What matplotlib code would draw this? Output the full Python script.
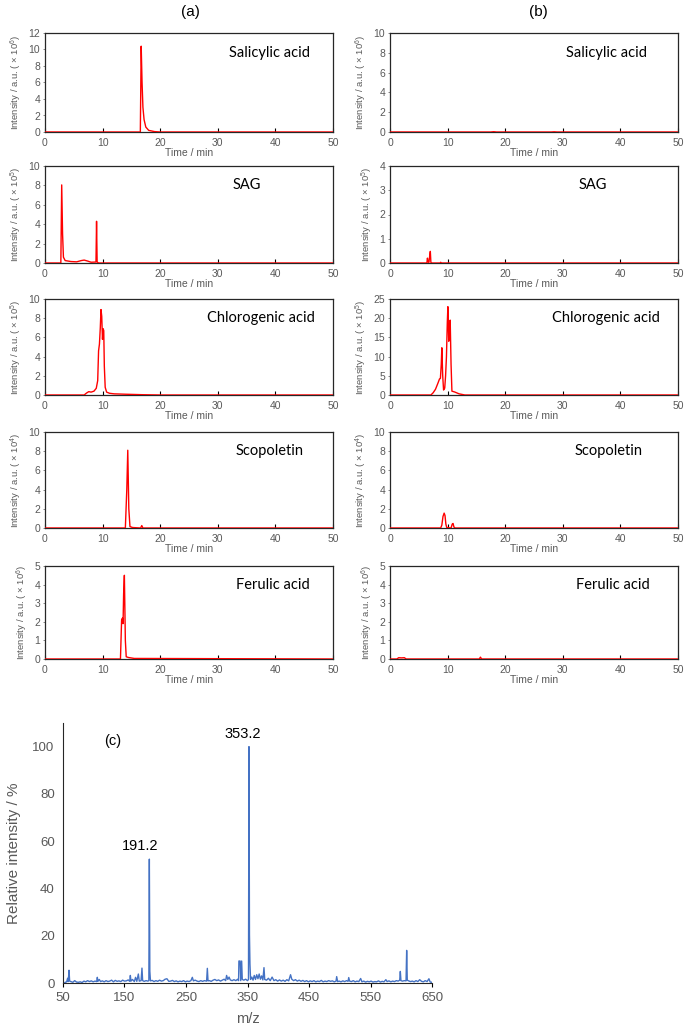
import numpy as np
import matplotlib
matplotlib.use("Agg")
import matplotlib.pyplot as plt

plt.rcParams['font.family'] = ['Liberation Sans', 'DejaVu Sans']
plt.rcParams['mathtext.fontset'] = 'custom'
plt.rcParams['mathtext.rm'] = 'Liberation Sans'

GREY = '#595959'
RED = '#ff0000'
BLUE = '#4472c4'

#------------------------ chromatogram data (time / min, intensity) ------------------------#
# column (a)
sa_a_t = [0, 16.55, 16.7, 16.85, 17.0, 17.2, 17.5, 18.0, 19.0, 20.0, 50]
sa_a_y = [0, 0, 10.4, 6.0, 3.0, 1.5, 0.6, 0.2, 0.05, 0, 0]

sag_a_t = [0, 2.75, 2.9, 3.05, 3.2, 3.5, 4.5, 5.5, 6.3, 6.8, 7.4, 8.0, 8.85, 8.95, 9.05, 9.3, 50]
sag_a_y = [0, 0, 8.05, 3.0, 0.6, 0.25, 0.15, 0.12, 0.25, 0.3, 0.2, 0.08, 0.1, 4.3, 0.1, 0, 0]

cga_a_t = [0, 6.8, 7.2, 7.6, 8.0, 8.5, 8.9, 9.15, 9.3, 9.45, 9.6, 9.72, 9.85, 9.98, 10.1,
           10.2, 10.3, 10.45, 10.7, 11.2, 12, 14, 17, 20, 50]
cga_a_y = [0, 0, 0.2, 0.35, 0.3, 0.4, 0.7, 1.5, 4.6, 5.3, 7.0, 8.9, 8.2, 5.8, 6.9,
           6.7, 3.0, 0.8, 0.3, 0.18, 0.12, 0.08, 0.03, 0, 0]

sco_a_t = [0, 13.95, 14.2, 14.37, 14.55, 14.75, 15.2, 16.6, 16.8, 17.0, 50]
sco_a_y = [0, 0, 4.0, 8.1, 2.0, 0.15, 0.05, 0, 0.25, 0, 0]

fer_a_t = [0, 13.1, 13.3, 13.45, 13.55, 13.65, 13.78, 13.95, 14.1, 14.5, 15.5, 50]
fer_a_y = [0, 0, 2.1, 2.2, 1.9, 3.5, 4.5, 1.0, 0.12, 0.08, 0.03, 0]

# column (b)
sa_b_t = [0, 17.5, 18.0, 18.5, 28.0, 28.5, 29.0, 50]
sa_b_y = [0, 0, 0.03, 0, 0, 0.02, 0, 0]

sag_b_t = [0, 6.4, 6.5, 6.6, 6.75, 6.9, 7.0, 7.1, 7.3, 8.7, 8.8, 8.9, 50]
sag_b_y = [0, 0, 0.2, 0.05, 0.02, 0.3, 0.48, 0.02, 0, 0, 0.03, 0, 0]

cga_b_t = [0, 7.1, 7.5, 7.9, 8.3, 8.6, 8.75, 8.9, 9.0, 9.15, 9.3, 9.5, 9.65, 9.8, 9.95,
           10.05, 10.2, 10.3, 10.45, 10.6, 10.75, 11.2, 12.0, 13, 50]
cga_b_y = [0, 0, 0.6, 1.5, 3.0, 4.2, 4.3, 8.0, 12.3, 5.0, 1.3, 1.8, 5.0, 10.0, 19.0,
           23.0, 14.0, 16.0, 19.5, 8.0, 1.0, 0.8, 0.3, 0, 0]

sco_b_t = [0, 8.8, 9.0, 9.2, 9.4, 9.55, 9.7, 9.85, 10.6, 10.8, 10.95, 11.1, 11.3, 50]
sco_b_y = [0, 0, 0.3, 1.2, 1.55, 1.3, 0.4, 0.05, 0, 0.4, 0.47, 0.1, 0, 0]

fer_b_t = [0, 1.2, 1.5, 2.0, 2.5, 2.8, 15.5, 15.7, 15.9, 50]
fer_b_y = [0, 0, 0.07, 0.06, 0.07, 0, 0, 0.1, 0, 0]

compounds = ['Salicylic acid', 'SAG', 'Chlorogenic acid', 'Scopoletin', 'Ferulic acid']
exponents = [6, 5, 5, 4, 6]
ymax_a = [12, 10, 10, 10, 5]
ystep_a = [2, 2, 2, 2, 1]
ymax_b = [10, 4, 25, 10, 5]
ystep_b = [2, 1, 5, 2, 1]
name_x_a = [0.78, 0.70, 0.75, 0.78, 0.79]
name_x_b = [0.75, 0.705, 0.75, 0.76, 0.775]

traces_a = [(sa_a_t, sa_a_y), (sag_a_t, sag_a_y), (cga_a_t, cga_a_y), (sco_a_t, sco_a_y), (fer_a_t, fer_a_y)]
traces_b = [(sa_b_t, sa_b_y), (sag_b_t, sag_b_y), (cga_b_t, cga_b_y), (sco_b_t, sco_b_y), (fer_b_t, fer_b_y)]

#------------------------ mass spectrum data (c) ------------------------#
ms_mz = [53, 56, 57.5, 58.5, 59.8, 60.8, 63, 66, 69, 72, 75, 78, 81, 84, 87, 90, 93, 96, 99, 102,
         104.8, 105.8, 106.8, 109, 111, 114, 117, 120, 123, 126, 129, 132, 135, 138, 141, 144, 147,
         150, 153, 156, 158.5, 159.5, 160.5, 163, 166, 168, 170, 172.5, 174, 177, 178.4, 179.5, 182,
         185, 188, 189.6, 190.4, 191.2, 192.2, 195, 198, 201, 204, 207, 210, 213, 216, 219, 222, 225,
         228, 231, 234, 237, 240, 243, 246, 249, 252, 255, 258, 260.3, 262, 265, 268, 271, 274, 277,
         280, 283.5, 284.7, 285.8, 288, 291, 294, 297, 300, 303, 306, 309, 312, 314.5, 316, 318, 320,
         322, 325, 328, 331, 334, 335.5, 336, 338, 339, 340.5, 341.5, 344, 347, 350, 351.6, 352.4,
         353.2, 354, 355, 357, 359, 361, 363, 365, 367, 369, 371, 373, 375, 376.8, 378, 381, 384, 387,
         390, 393, 396, 399, 402, 405, 408, 411, 414, 417, 420, 422, 425, 428, 431, 434, 437, 440, 443,
         446, 449, 452, 455, 458, 461, 464, 467, 470, 473, 476, 479, 482, 485, 488, 491, 494, 495,
         496.5, 499, 502, 505, 508, 511, 513.5, 514.6, 516, 519, 522, 525, 528, 531, 534, 536, 539,
         542, 545, 548, 551, 554, 557, 560, 563, 566, 569, 572, 575, 577, 580, 583, 586, 589, 592,
         595, 597.5, 598.5, 599.5, 602, 605, 607.8, 608.8, 609.8, 612, 615, 618, 621, 624, 627, 630,
         633, 636, 639, 642, 645, 647, 650]
ms_int = [0.2, 0.5, 2.0, 0.6, 5.4, 0.8, 0.6, 0.3, 1.0, 0.4, 0.3, 0.5, 0.2, 0.8, 0.5, 1.0, 0.6, 0.9,
          0.5, 0.8, 0.6, 2.4, 0.7, 1.5, 0.6, 0.9, 0.5, 1.0, 0.6, 0.8, 1.2, 0.5, 1.1, 0.7, 0.9, 0.6,
          1.2, 0.8, 0.9, 1.3, 0.7, 3.2, 0.8, 1.5, 0.6, 2.4, 0.7, 3.8, 0.8, 1.0, 6.3, 1.0, 0.7, 1.0,
          0.8, 1.0, 52.4, 5.0, 0.9, 1.1, 0.6, 1.0, 0.7, 1.2, 0.8, 1.0, 1.6, 1.8, 0.7, 0.8, 1.1, 0.6,
          0.9, 0.5, 0.8, 0.6, 1.0, 0.5, 0.8, 0.6, 1.0, 2.4, 0.9, 1.2, 0.8, 0.6, 1.0, 0.7, 1.0, 0.8,
          6.2, 0.9, 1.0, 0.7, 1.2, 1.5, 1.0, 1.3, 0.8, 1.2, 1.6, 1.0, 3.2, 1.5, 2.5, 1.3, 1.0, 1.4,
          1.0, 1.6, 1.0, 9.3, 9.3, 1.0, 9.3, 1.5, 1.2, 1.6, 1.0, 1.5, 100, 20.4, 8.0, 1.5, 2.5, 1.2,
          3.2, 1.5, 3.5, 1.8, 3.8, 1.6, 3.0, 1.3, 6.5, 1.5, 1.2, 2.0, 1.0, 2.5, 1.0, 1.4, 0.8, 1.3,
          0.8, 1.2, 0.7, 1.4, 0.9, 3.5, 1.6, 1.0, 1.4, 0.8, 1.2, 0.7, 1.1, 0.6, 1.0, 0.5, 0.9, 0.6,
          1.0, 0.5, 0.8, 0.6, 1.1, 0.5, 0.8, 0.6, 1.0, 0.7, 0.9, 0.5, 0.8, 2.7, 0.6, 0.8, 0.5, 0.9,
          0.6, 1.0, 0.7, 2.3, 0.8, 0.6, 1.0, 0.5, 0.8, 0.6, 1.9, 0.5, 0.8, 0.4, 0.7, 0.5, 0.8, 0.4,
          0.6, 0.5, 0.9, 0.4, 0.7, 0.5, 1.4, 0.6, 0.9, 0.5, 0.8, 0.6, 1.0, 0.8, 1.2, 4.9, 1.0, 0.8,
          1.0, 0.9, 13.8, 1.2, 0.9, 0.6, 0.8, 0.5, 1.0, 0.6, 1.4, 0.7, 0.5, 1.0, 0.6, 1.8, 0.4, 0.3]
ms_labels = ['191.2', '353.2']
ms_label_pos = [(176, 55), (343, 102.5)]

#------------------------ figure ------------------------#
W, H = 685, 1027
fig = plt.figure(figsize=(W / 100, H / 100), dpi=100)

def px_axes(left, top, right, bottom):
    return fig.add_axes([left / W, 1 - bottom / H, (right - left) / W, (bottom - top) / H])

rows = [(33, 132), (166, 263), (299, 395), (432, 528), (566, 659)]

def draw_chrom(ax, t, y, name, ymax, ystep, exp, name_x):
    ax.plot(t, y, color=RED, lw=1.0, zorder=3)
    ax.set_xlim(0, 50)
    ax.set_ylim(0, ymax)
    ax.set_xticks(np.arange(0, 51, 10))
    ax.set_yticks(np.arange(0, ymax + 0.01, ystep))
    ax.tick_params(axis='x', direction='in', length=3, width=0.8, color='black',
                   labelsize=7.5, labelcolor=GREY, pad=4)
    ax.tick_params(axis='y', direction='out', length=1.5, width=0.5, color=GREY,
                   labelsize=7.5, labelcolor=GREY, pad=2)
    for s in ax.spines.values():
        s.set_color('#262626')
        s.set_linewidth(0.9)
    ax.set_xlabel('Time / min', fontsize=7.5, color=GREY, labelpad=0)
    ax.set_ylabel(r'Intensity / a.u. ( $\times$ 10$^{%d}$)' % exp, fontsize=6.8,
                  color=GREY, labelpad=3)
    ax.text(name_x, 0.8, name, transform=ax.transAxes, ha='center', va='center',
            fontsize=10.5, family=['Lato', 'DejaVu Sans'])

for i, (top, bottom) in enumerate(rows):
    ax = px_axes(45, top, 333, bottom)
    draw_chrom(ax, traces_a[i][0], traces_a[i][1], compounds[i], ymax_a[i], ystep_a[i],
               exponents[i], name_x_a[i])
    ax = px_axes(390, top, 678, bottom)
    draw_chrom(ax, traces_b[i][0], traces_b[i][1], compounds[i], ymax_b[i], ystep_b[i],
               exponents[i], name_x_b[i])

fig.text(190 / W, 1 - 12 / H, '(a)', ha='center', va='center', fontsize=11)
fig.text(538 / W, 1 - 12 / H, '(b)', ha='center', va='center', fontsize=11)

# (c) mass spectrum
axc = px_axes(63, 723, 432, 983)
axc.plot(ms_mz, ms_int, color=BLUE, lw=1.0)
axc.set_xlim(50, 650)
axc.set_ylim(0, 110)
axc.set_xticks(np.arange(50, 651, 100))
axc.set_yticks(np.arange(0, 101, 20))
axc.spines['top'].set_visible(False)
axc.spines['right'].set_visible(False)
axc.spines['left'].set_color('#262626')
axc.spines['bottom'].set_color('#262626')
axc.tick_params(axis='x', direction='out', length=3, width=0.8, color='black',
                labelsize=9.5, labelcolor=GREY)
axc.tick_params(axis='y', length=0, labelsize=9.5, labelcolor=GREY, pad=6)
axc.set_xlabel('m/z', fontsize=10.5, color=GREY, labelpad=6)
axc.set_ylabel('Relative intensity / %', fontsize=11, color=GREY, labelpad=8)
axc.text(0.135, 0.93, '(c)', transform=axc.transAxes, ha='center', va='center', fontsize=10.5)
for lab, (x, y) in zip(ms_labels, ms_label_pos):
    axc.text(x, y, lab, ha='center', va='bottom', fontsize=10.5)

fig.savefig('out.png', dpi=100)
